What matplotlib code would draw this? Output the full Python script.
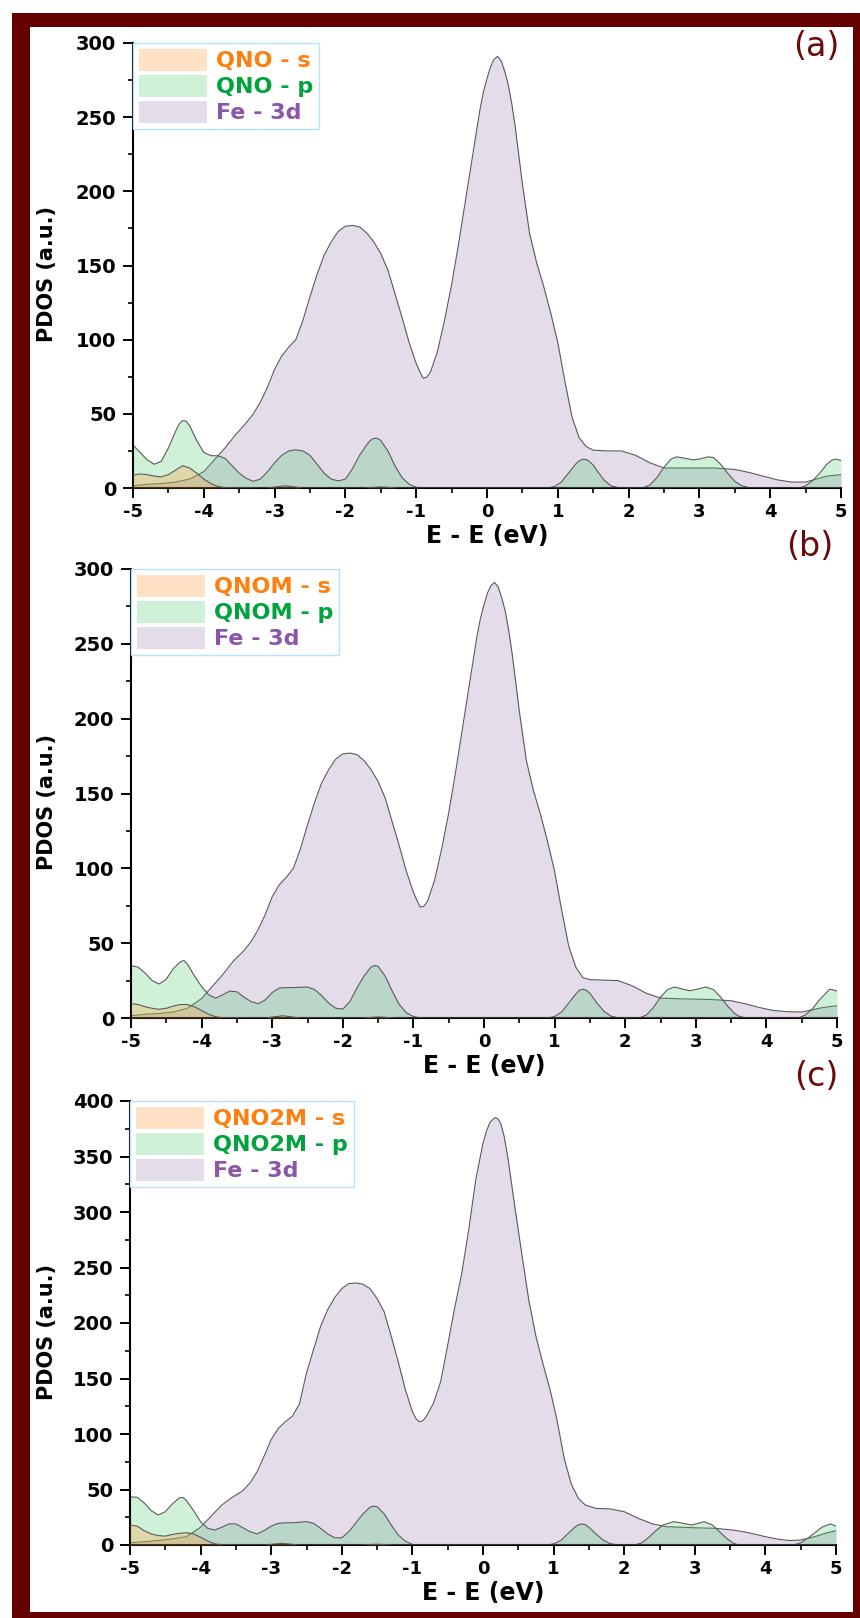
import matplotlib
matplotlib.use("Agg")
import matplotlib.pyplot as plt
from matplotlib.patches import Patch, Rectangle
from matplotlib.ticker import MultipleLocator

plt.rcParams["font.family"] = "DejaVu Sans"
plt.rcParams["axes.unicode_minus"] = False

W, H = 860, 1618

# ---------------- data ----------------
# panel (a): QNO
fe_a_x = [-5.0, -4.8, -4.6, -4.4, -4.2, -4.0, -3.85, -3.7, -3.55, -3.4, -3.3, -3.2, -3.1, -3.0,
          -2.9, -2.8, -2.7, -2.6, -2.5, -2.4, -2.3, -2.2, -2.1, -2.0, -1.9, -1.8, -1.7, -1.6,
          -1.5, -1.4, -1.3, -1.2, -1.1, -1.0, -0.95, -0.9, -0.85, -0.8, -0.7, -0.6, -0.5, -0.4,
          -0.3, -0.2, -0.1, -0.05, 0.0, 0.05, 0.1, 0.15, 0.2, 0.25, 0.3, 0.35, 0.4, 0.5, 0.6,
          0.7, 0.8, 0.9, 1.0, 1.1, 1.2, 1.3, 1.4, 1.5, 1.7, 1.9, 2.1, 2.3, 2.5, 2.8, 3.2, 3.5,
          3.7, 3.9, 4.1, 4.3, 4.5, 4.65, 4.8, 5.0]
fe_a_y = [1.5, 2.5, 3.0, 4.0, 6.0, 11, 19, 27, 36, 44, 50, 58, 68, 80,
          89, 95, 100, 113, 129, 144, 157, 166, 173, 176.5, 177, 176, 172, 166,
          158, 147, 131, 115, 98, 84, 78.5, 74, 74.8, 78, 92, 113, 137, 165,
          195, 225, 255, 267, 276, 284, 289, 291, 288, 281, 272, 259, 243, 205, 172,
          152, 136, 118, 98, 72, 48, 34, 28, 25.5, 25, 25, 22, 17, 13.5, 13.5, 13.5, 12.5,
          10.5, 8, 5.5, 4, 4, 6, 8, 9]

p_a_x = [-5.0, -4.9, -4.8, -4.7, -4.6, -4.5, -4.4, -4.35, -4.3, -4.25, -4.2, -4.1, -4.0, -3.9,
         -3.8, -3.7, -3.6, -3.5, -3.4, -3.3, -3.2, -3.1, -3.0, -2.9, -2.8, -2.7, -2.6, -2.5,
         -2.4, -2.3, -2.2, -2.1, -2.0, -1.9, -1.8, -1.7, -1.65, -1.6, -1.55, -1.5, -1.4, -1.3,
         -1.2, -1.1, -1.0, -0.9,
         0.85, 0.95, 1.05, 1.15, 1.25, 1.3, 1.36, 1.42, 1.5, 1.55, 1.65, 1.75, 1.88,
         2.2, 2.3, 2.4, 2.5, 2.6, 2.68, 2.8, 2.91, 3.0, 3.12, 3.2, 3.3, 3.4, 3.5, 3.6, 3.7,
         4.42, 4.5, 4.6, 4.7, 4.8, 4.87, 4.93, 5.0]
p_a_y = [29, 24, 19, 16, 18, 27, 38, 43, 45.5, 45, 42, 32, 24, 21.8,
         21.7, 20, 15, 10, 6.5, 4.5, 6, 11, 17, 22, 25, 25.7, 25, 22,
         16, 10, 6, 4.8, 6, 13, 22, 29, 32, 33.5, 33.5, 32, 25, 15,
         7, 2.5, 0.5, 0,
         0, 1, 4, 10, 16, 18.3, 19.5, 18.8, 15.5, 12, 5.5, 1.5, 0,
         0, 2, 7, 14, 19.5, 21, 20, 19, 19.5, 21, 20.5, 16, 10, 4.5, 1.5, 0.2,
         0, 1.5, 5, 10, 16, 18.8, 19.5, 18.5]

s_x = [-5.0, -4.9, -4.8, -4.7, -4.6, -4.5, -4.4, -4.3, -4.2, -4.1, -4.0, -3.9, -3.8, -3.7,
       -3.1, -2.85, -2.6, -1.75, -1.5, -1.25, 5.0]
s_a_y = [8.6, 9.5, 9.0, 8.0, 7.5, 9.0, 12, 15, 13.5, 10, 6, 3, 1, 0.2,
         0, 1.5, 0, 0, 0.7, 0, 0]

# panel (b): QNOM
fe_b_x = fe_a_x
fe_b_y = [1.5, 2.5, 3.0, 4.0, 6.5, 13, 21, 29, 38, 45, 51, 59, 69, 81,
          89, 94, 100, 113, 129, 144, 157, 166, 173, 176.5, 177, 176, 172, 166,
          158, 147, 131, 115, 98, 84, 78.5, 74, 74.8, 78, 92, 113, 137, 165,
          195, 225, 255, 267, 276, 284, 289, 291, 288, 281, 272, 259, 243, 205, 172,
          152, 136, 118, 98, 72, 48, 34, 27, 25.6, 25.3, 25, 21.5, 16.5, 13.3, 12.8, 12.4, 11.5,
          9.5, 7, 5, 4.2, 4, 5.5, 7, 8.2]

p_b_x = [-5.0, -4.9, -4.8, -4.7, -4.6, -4.5, -4.4, -4.3, -4.25, -4.2, -4.1, -4.0, -3.9, -3.8,
         -3.7, -3.6, -3.5, -3.4, -3.3, -3.2, -3.1, -3.0, -2.9, -2.8, -2.7, -2.6, -2.5, -2.4,
         -2.3, -2.2, -2.1, -2.0, -1.9, -1.8, -1.7, -1.6, -1.55, -1.5, -1.4, -1.3, -1.2, -1.1,
         -1.0, -0.9,
         0.9, 1.0, 1.1, 1.2, 1.3, 1.35, 1.4, 1.45, 1.5, 1.6, 1.7, 1.8, 1.92,
         2.2, 2.3, 2.4, 2.5, 2.6, 2.7, 2.8, 2.91, 3.0, 3.14, 3.25, 3.35, 3.45, 3.55, 3.62, 3.72,
         4.45, 4.55, 4.65, 4.75, 4.85, 4.9, 5.0]
p_b_y = [35, 34, 30, 25, 22.7, 26, 33, 37.5, 38.4, 36, 28, 21, 15.5, 13.3,
         15.5, 18, 17.5, 14, 11, 9.6, 12, 17, 20, 20.3, 20.3, 20.5, 20.7, 19,
         15, 10, 6.5, 6, 11, 20, 28, 34, 35, 34.5, 28, 18, 9, 3.5,
         1, 0,
         0, 1, 4, 10, 16, 18.5, 19.3, 18.5, 16.5, 10, 4.5, 1.2, 0,
         0, 2, 7, 14, 19, 20.7, 19.5, 18.2, 19, 20.7, 19, 14, 8, 3, 1, 0,
         0, 2, 6, 12, 17, 19.3, 18]

s_b_y = [9.6, 9.0, 7.5, 6.5, 5.8, 6.5, 8, 9, 9, 7.5, 5, 2.5, 0.8, 0.2,
         0, 1.5, 0, 0, 0.7, 0, 0]

# panel (c): QNO2M
fe_c_x = [-5.0, -4.8, -4.6, -4.4, -4.2, -4.0, -3.85, -3.7, -3.55, -3.4, -3.3, -3.2, -3.1, -3.0,
          -2.9, -2.8, -2.7, -2.6, -2.5, -2.4, -2.3, -2.2, -2.1, -2.0, -1.9, -1.8, -1.7, -1.6,
          -1.5, -1.4, -1.3, -1.2, -1.1, -1.0, -0.95, -0.9, -0.85, -0.8, -0.7, -0.6, -0.5, -0.4,
          -0.3, -0.2, -0.1, 0.0, 0.05, 0.1, 0.17, 0.21, 0.25, 0.3, 0.35, 0.45, 0.55, 0.65, 0.75,
          0.85, 0.95, 1.05, 1.15, 1.25, 1.35, 1.45, 1.6, 1.8, 2.0, 2.2, 2.4, 2.6, 3.0, 3.3, 3.6,
          3.8, 4.0, 4.2, 4.35, 4.5, 4.7, 4.85, 5.0]
fe_c_y = [2, 3, 4, 5.5, 7.5, 16, 26, 36, 43, 49, 56, 66, 80, 95,
          105, 111, 116, 127, 155, 176, 197, 212, 223, 231, 235.5, 236, 235, 231,
          222, 210, 188, 165, 140, 120, 114, 111, 112, 116, 128, 147, 180, 214,
          245, 285, 330, 362, 373, 381, 385, 384, 380, 368, 350, 305, 262, 220, 188,
          163, 140, 112, 78, 55, 42, 36, 33, 32.5, 30, 24, 19, 16.5, 15.5, 15, 13,
          10.5, 7.5, 5, 4, 4.5, 7.5, 10.5, 13]

p_c_x = [-5.0, -4.9, -4.8, -4.7, -4.6, -4.5, -4.4, -4.3, -4.25, -4.2, -4.1, -4.0, -3.9, -3.8,
         -3.7, -3.6, -3.5, -3.4, -3.3, -3.2, -3.1, -3.0, -2.9, -2.8, -2.7, -2.6, -2.5, -2.4,
         -2.3, -2.2, -2.1, -2.0, -1.9, -1.8, -1.7, -1.6, -1.55, -1.5, -1.4, -1.3, -1.2, -1.1,
         -1.0, -0.9,
         0.9, 1.0, 1.1, 1.2, 1.3, 1.35, 1.4, 1.45, 1.5, 1.6, 1.7, 1.8, 1.92,
         2.15, 2.25, 2.35, 2.45, 2.55, 2.7, 2.8, 2.95, 3.05, 3.13, 3.25, 3.35, 3.45, 3.55, 3.62,
         4.4, 4.5, 4.6, 4.7, 4.8, 4.92, 5.0]
p_c_y = [43.4, 43, 38, 31, 27, 30, 37, 42.5, 42.8, 40, 31, 21, 15, 13.5,
         16, 19, 19, 15.5, 12, 10, 13, 17, 19.5, 20, 20, 20.5, 21, 19.5,
         15, 10, 6.5, 6.5, 12, 20, 28, 34, 35, 34.5, 28, 18, 9, 3.5,
         0.5, 0,
         0, 1, 4, 10, 16, 18.2, 19, 18.2, 16, 10, 4.5, 1.2, 0,
         0, 2, 7, 13, 18, 21, 20, 18, 19.5, 21, 18, 12, 6, 1.5, 0,
         0, 2, 6, 11, 16, 19, 17]

s_c_y = [18, 17, 13, 10, 8.5, 8, 9.5, 10.5, 11, 10, 7, 3.5, 1, 0.2,
         0, 1.5, 0, 0, 0.7, 0, 0]

panel_tags = ["(a)", "(b)", "(c)"]
ligands = ["QNO", "QNOM", "QNO2M"]
y_max = [300, 300, 400]
y_step = [50, 50, 50]

# ---------------- styling ----------------
s_col, p_col, fe_col = "#FF9F40", "#3CC864", "#C0A8CC"
s_alpha, p_alpha, fe_alpha = 0.3, 0.25, 0.4
text_cols = ["#FF7F0E", "#00A33C", "#8A55AA"]
maroon = "#640000"

# axes boxes in pixels: left, top, right, bottom
boxes = [(133, 43, 841, 488), (131, 569, 837, 1018), (130, 1101, 836, 1545)]
tag_pos = [(816, 47), (810, 547), (816, 1076)]

data = [
    (fe_a_x, fe_a_y, p_a_x, p_a_y, s_x, s_a_y),
    (fe_b_x, fe_b_y, p_b_x, p_b_y, s_x, s_b_y),
    (fe_c_x, fe_c_y, p_c_x, p_c_y, s_x, s_c_y),
]

fig = plt.figure(figsize=(W / 100, H / 100), dpi=100)

# maroon frame round the whole figure
fig.patches.append(Rectangle((12 / W, 0), 1 - 12 / W, 1 - 13 / H, transform=fig.transFigure,
                             facecolor=maroon, edgecolor="none", zorder=-10))
fig.patches.append(Rectangle((30 / W, 6 / H), 823 / W, 1585 / H, transform=fig.transFigure,
                             facecolor="white", edgecolor="none", zorder=-9))

for i, (fx, fy, px, py, sx, sy) in enumerate(data):
    l, t, r, b = boxes[i]
    ax = fig.add_axes([l / W, 1 - b / H, (r - l) / W, (b - t) / H])
    ax.patch.set_alpha(0)

    ax.fill_between(fx, fy, 0, color=fe_col, alpha=fe_alpha, lw=0, zorder=1)
    ax.plot(fx, fy, color="#5a5a5a", lw=0.8, zorder=1.5)
    ax.fill_between(px, py, 0, color=p_col, alpha=p_alpha, lw=0, zorder=2)
    ax.plot(px, py, color="#5a5a5a", lw=0.8, zorder=2.5)
    ax.fill_between(sx, sy, 0, color=s_col, alpha=s_alpha, lw=0, zorder=3)
    ax.plot(sx, sy, color="#5a5a5a", lw=0.8, zorder=3.5)

    ax.set_xlim(-5, 5)
    ax.set_ylim(0, y_max[i])
    ax.xaxis.set_major_locator(MultipleLocator(1))
    ax.xaxis.set_minor_locator(MultipleLocator(0.5))
    ax.yaxis.set_major_locator(MultipleLocator(y_step[i]))
    ax.yaxis.set_minor_locator(MultipleLocator(y_step[i] / 2))
    for side in ["top", "right"]:
        ax.spines[side].set_visible(False)
    for side in ["left", "bottom"]:
        ax.spines[side].set_linewidth(1.5)
    ax.tick_params(which="major", direction="out", length=7, width=1.4)
    ax.tick_params(which="minor", direction="out", length=3.5, width=1.2)
    ax.tick_params(axis="x", which="major", labelsize=13, pad=4)
    ax.tick_params(axis="y", which="major", labelsize=14, pad=5)
    for lab in ax.get_xticklabels() + ax.get_yticklabels():
        lab.set_fontweight("bold")

    ax.set_xlabel("E - E (eV)", fontsize=17, fontweight="bold")
    ax.xaxis.set_label_coords(0.5, -36 / (b - t))
    ax.set_ylabel("PDOS (a.u.)", fontsize=15, fontweight="bold")
    ax.yaxis.set_label_coords((57 - l) / (r - l), 0.48)

    handles = [
        Patch(facecolor=s_col, alpha=s_alpha, edgecolor="none"),
        Patch(facecolor=p_col, alpha=p_alpha, edgecolor="none"),
        Patch(facecolor=fe_col, alpha=fe_alpha, edgecolor="none"),
    ]
    labels = [f"{ligands[i]} - s", f"{ligands[i]} - p", "Fe - 3d"]
    leg = ax.legend(handles, labels, loc="upper left", borderaxespad=0,
                    prop={"size": 16, "weight": "bold"}, handlelength=3.1,
                    handleheight=1.17, handletextpad=0.4, labelspacing=0.15,
                    borderpad=0.25, fancybox=False, framealpha=1)
    leg.get_frame().set_edgecolor("#B5E3F7")
    leg.get_frame().set_linewidth(1.0)
    for txt, c in zip(leg.get_texts(), text_cols):
        txt.set_color(c)

    fig.text(tag_pos[i][0] / W, 1 - tag_pos[i][1] / H, panel_tags[i], ha="center",
             va="center", fontsize=24, color="#6B0A0A")

fig.savefig("out.png", dpi=100)
